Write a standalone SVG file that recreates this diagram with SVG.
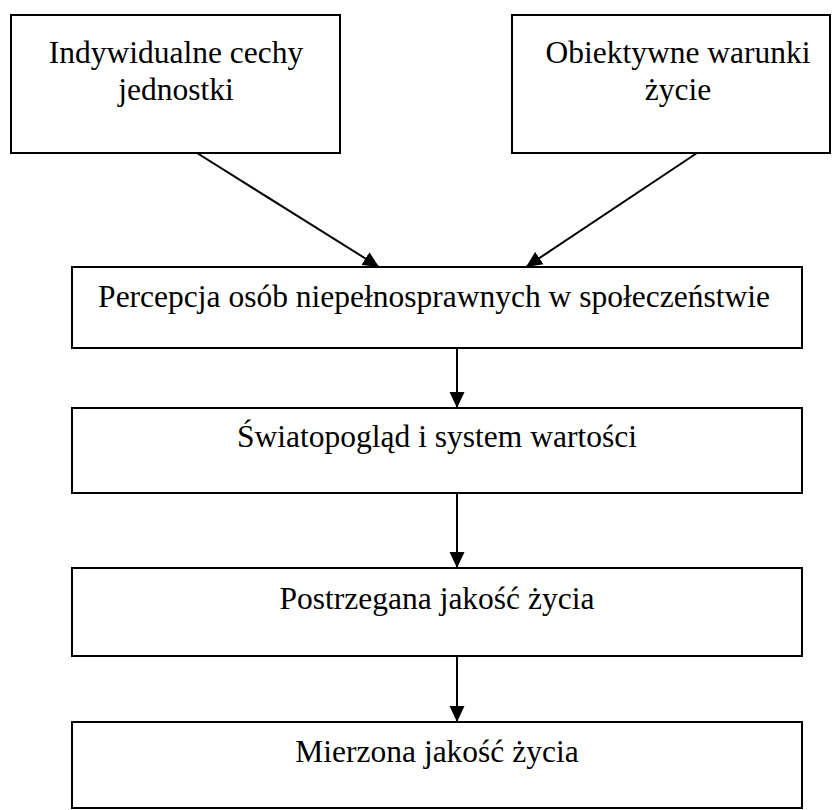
<svg xmlns="http://www.w3.org/2000/svg" width="832" height="810" viewBox="0 0 832 810">
  <style>
    .box { fill: #ffffff; stroke: #000000; stroke-width: 2; }
    .lbl { font-family: "Liberation Serif", "Times New Roman", serif; font-size: 31.5px; fill: #000000; text-anchor: middle; }
    .edge { stroke: #000000; stroke-width: 2; fill: none; marker-end: url(#head); }
  </style>
  <defs>
    <!-- solid triangular arrowhead shared by all connectors -->
    <marker id="head" markerUnits="userSpaceOnUse" markerWidth="17" markerHeight="16" viewBox="0 0 17 16" refX="16" refY="8" orient="auto">
      <path d="M0,0.5 L16,8 L0,15.5 Z" fill="#000000"/>
    </marker>
  </defs>
  <rect width="832" height="810" fill="#ffffff"/>

  <g id="node-cechy">
    <rect class="box" x="11" y="15" width="329" height="138"/>
    <text class="lbl" x="176" y="63">Indywidualne cechy</text>
    <text class="lbl" x="176" y="100">jednostki</text>
  </g>

  <g id="node-warunki">
    <rect class="box" x="512" y="15" width="318" height="138"/>
    <text class="lbl" x="678" y="63">Obiektywne warunki</text>
    <text class="lbl" x="678" y="100">życie</text>
  </g>

  <g id="node-percepcja">
    <rect class="box" x="72" y="267" width="730" height="81"/>
    <text class="lbl" x="434" y="307">Percepcja osób niepełnosprawnych w społeczeństwie</text>
  </g>

  <g id="node-swiatopoglad">
    <rect class="box" x="72" y="408" width="730" height="85"/>
    <text class="lbl" x="437" y="447">Światopogląd i system wartości</text>
  </g>

  <g id="node-postrzegana">
    <rect class="box" x="72" y="568" width="730" height="88"/>
    <text class="lbl" x="437" y="609">Postrzegana jakość życia</text>
  </g>

  <g id="node-mierzona">
    <rect class="box" x="72" y="722" width="730" height="86"/>
    <text class="lbl" x="437" y="762">Mierzona jakość życia</text>
  </g>

  <g id="connectors">
    <line class="edge" x1="197" y1="153" x2="379" y2="267"/>
    <line class="edge" x1="697" y1="153" x2="526" y2="267"/>
    <line class="edge" x1="457" y1="348" x2="457" y2="408"/>
    <line class="edge" x1="457" y1="493" x2="457" y2="568"/>
    <line class="edge" x1="457" y1="656" x2="457" y2="722"/>
  </g>
</svg>
